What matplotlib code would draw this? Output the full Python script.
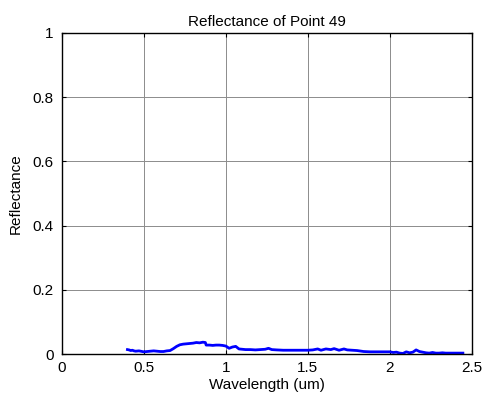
import matplotlib
matplotlib.use('Agg')
import matplotlib.pyplot as plt
import numpy as np

plt.rcParams['font.family'] = ['Liberation Sans', 'DejaVu Sans']

# Wavelength (um) and reflectance
wavelength = [0.40, 0.41, 0.42, 0.43, 0.44, 0.45, 0.47, 0.49, 0.50, 0.52,
              0.54, 0.56, 0.58, 0.60, 0.62, 0.64, 0.66, 0.68, 0.70, 0.72,
              0.74, 0.76, 0.78, 0.80, 0.82, 0.84, 0.86, 0.875, 0.88, 0.90,
              0.92, 0.94, 0.96, 0.98, 1.00, 1.02, 1.04, 1.06, 1.08, 1.10,
              1.12, 1.15, 1.18, 1.21, 1.24, 1.26, 1.28, 1.31, 1.35, 1.40,
              1.45, 1.50, 1.53, 1.56, 1.58, 1.61, 1.64, 1.66, 1.69, 1.72,
              1.74, 1.77, 1.80, 1.84, 1.88, 1.92, 1.96, 2.00, 2.02, 2.04,
              2.06, 2.08, 2.10, 2.12, 2.14, 2.16, 2.18, 2.20, 2.22, 2.24,
              2.26, 2.28, 2.30, 2.32, 2.34, 2.36, 2.38, 2.41, 2.445]
reflectance = [0.014, 0.013, 0.011, 0.012, 0.010, 0.009, 0.010, 0.008, 0.007, 0.008,
               0.009, 0.010, 0.009, 0.008, 0.008, 0.010, 0.011, 0.017, 0.024, 0.029,
               0.031, 0.032, 0.033, 0.034, 0.036, 0.035, 0.037, 0.036, 0.028, 0.028,
               0.027, 0.028, 0.028, 0.027, 0.025, 0.018, 0.022, 0.024, 0.016, 0.015,
               0.014, 0.014, 0.013, 0.014, 0.015, 0.018, 0.014, 0.013, 0.012, 0.012,
               0.012, 0.012, 0.013, 0.016, 0.012, 0.016, 0.014, 0.017, 0.012, 0.016,
               0.013, 0.012, 0.011, 0.008, 0.007, 0.007, 0.007, 0.007, 0.005, 0.006,
               0.003, 0.002, 0.007, 0.004, 0.006, 0.013, 0.008, 0.006, 0.004, 0.003,
               0.005, 0.003, 0.003, 0.004, 0.003, 0.003, 0.003, 0.003, 0.003]

xticks = [0, 0.5, 1, 1.5, 2, 2.5]
xticklabels = ['0', '0.5', '1', '1.5', '2', '2.5']
yticks = [0, 0.2, 0.4, 0.6, 0.8, 1]
yticklabels = ['0', '0.2', '0.4', '0.6', '0.8', '1']

fig = plt.figure(figsize=(4.83, 4.01), dpi=100)
ax = fig.add_axes([0.128, 0.117, 0.849, 0.801])

ax.plot(wavelength, reflectance, color='#0000ff', linewidth=2)

ax.set_xlim(0, 2.5)
ax.set_ylim(0, 1)
ax.set_xticks(xticks)
ax.set_xticklabels(xticklabels)
ax.set_yticks(yticks)
ax.set_yticklabels(yticklabels)
ax.grid(True, color='#8c8c8c', linewidth=0.7)
ax.tick_params(direction='in', top=True, right=True, length=3, labelsize=11)
ax.tick_params(axis='x', pad=5)
ax.tick_params(axis='y', pad=6)
for sp in ax.spines.values():
    sp.set_linewidth(1.0)

ax.set_xlabel('Wavelength (um)', fontsize=11, labelpad=2)
ax.set_ylabel('Reflectance', fontsize=11, labelpad=7)
ax.set_title('Reflectance of Point 49', fontsize=11, pad=5)

plt.savefig('out.png', dpi=100)
